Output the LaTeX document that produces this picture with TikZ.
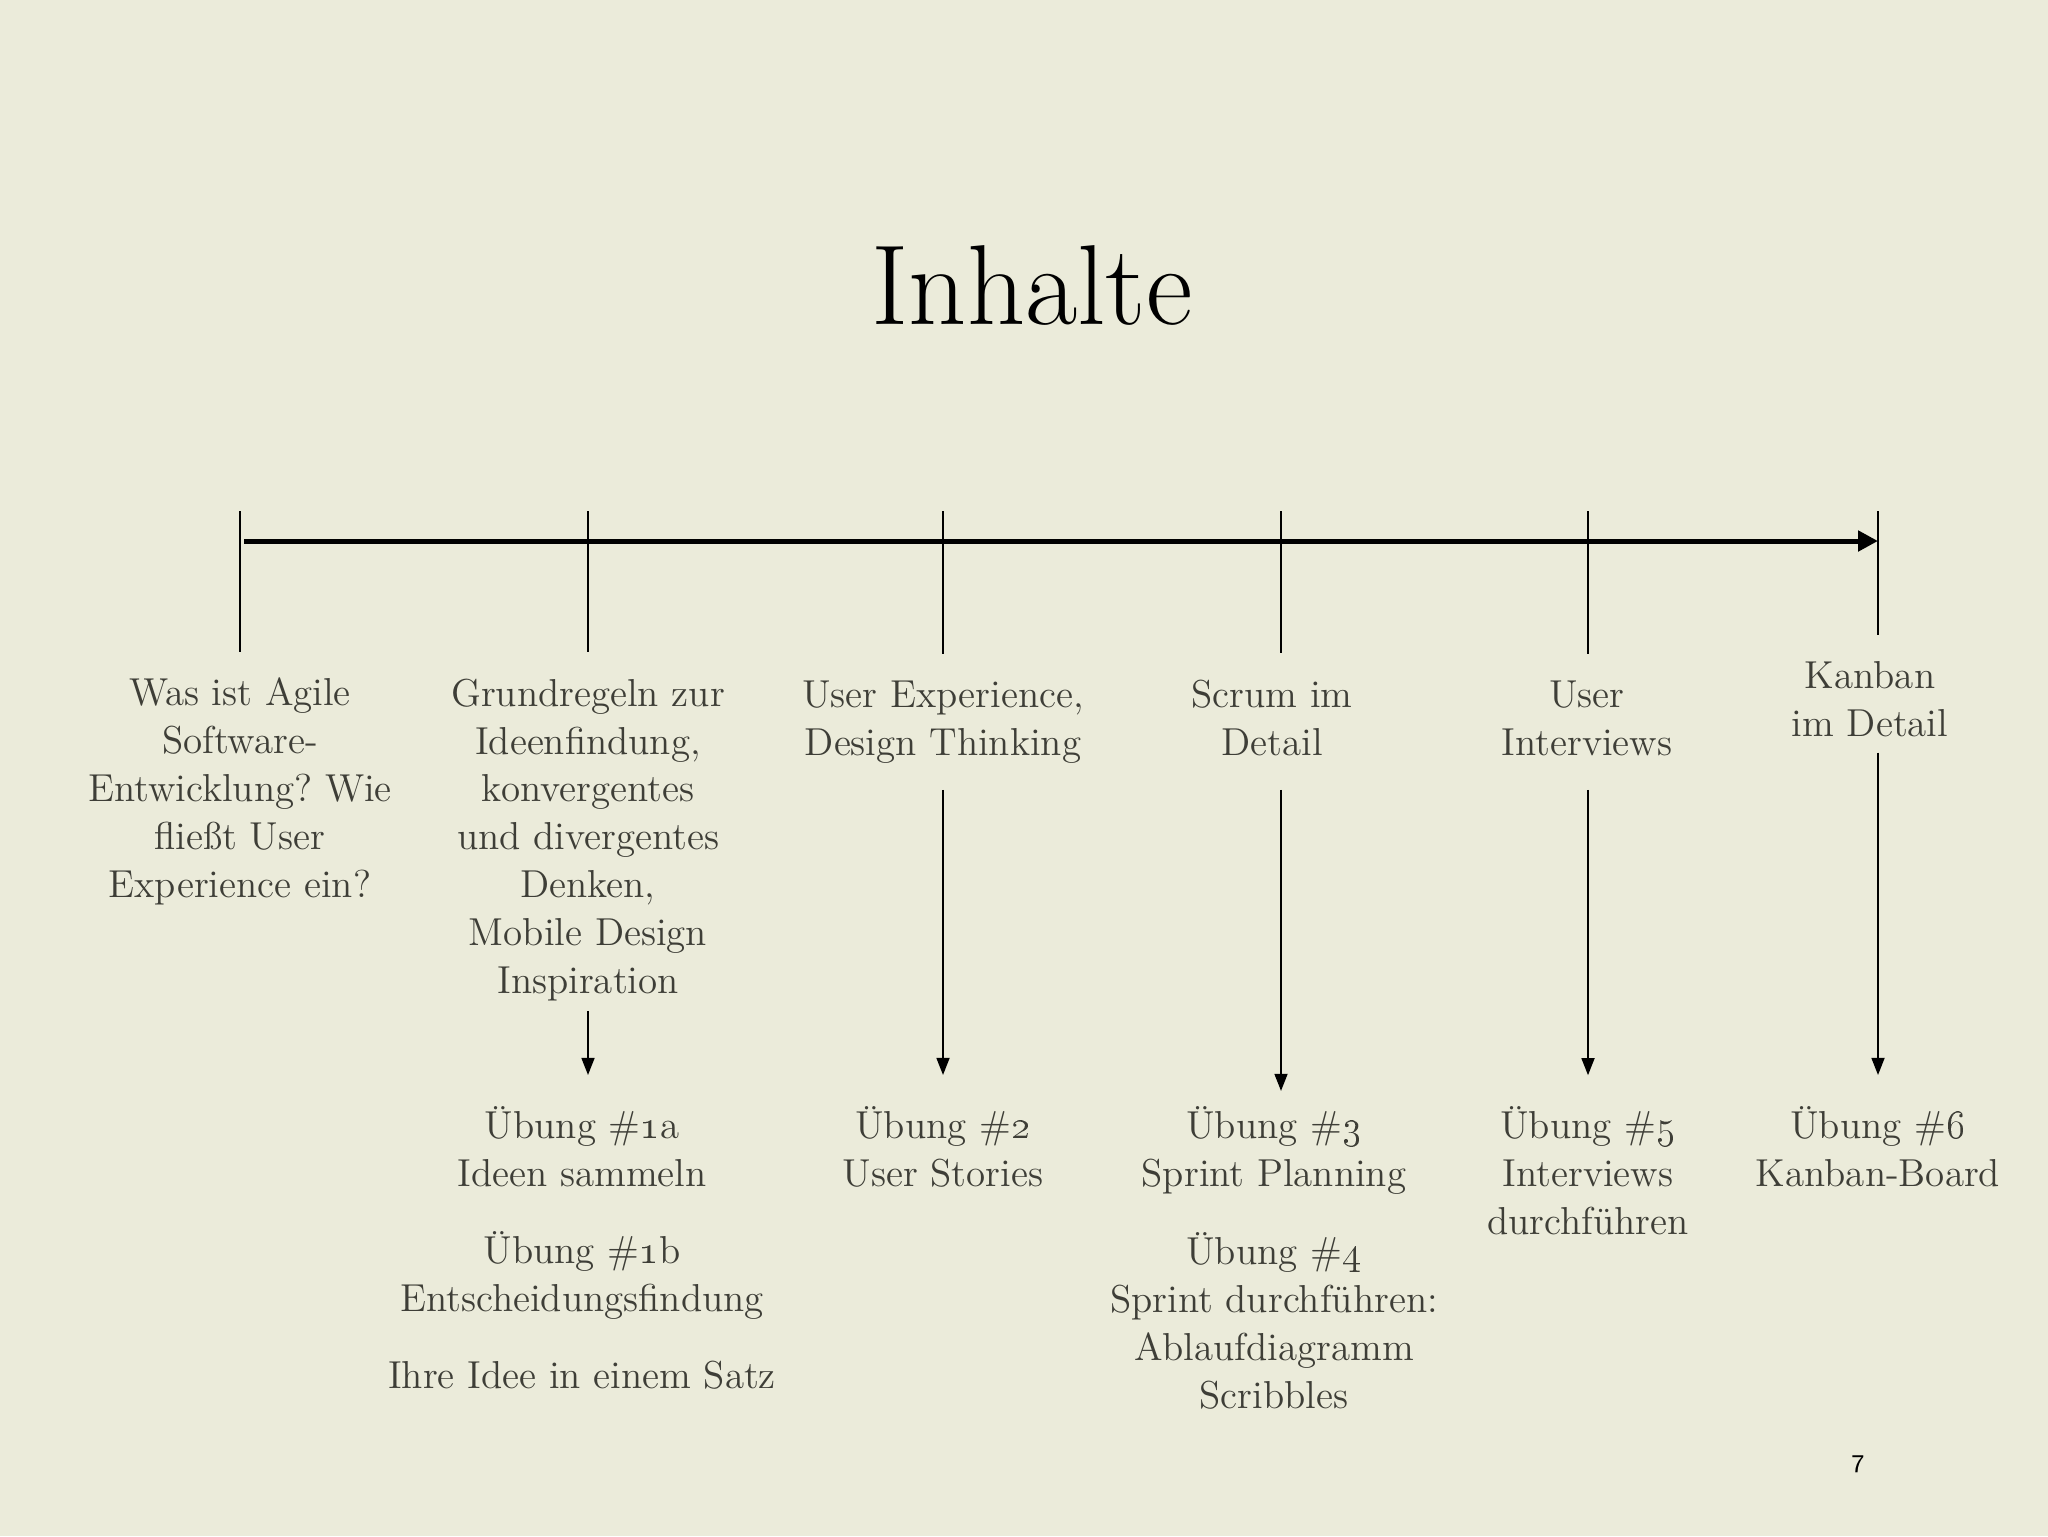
\documentclass[tikz,border=0pt]{standalone}
\usetikzlibrary{arrows.meta,positioning}
\definecolor{slidebg}{RGB}{235,235,218}
\definecolor{txtgray}{RGB}{62,62,55}
\newcommand{\lblfont}{\frenchspacing\fontsize{13.7}{16.8}\selectfont}

\begin{document}
\begin{tikzpicture}[x=0.3516pt,y=-0.3516pt,
	lbl/.style={align=center,text=txtgray,font=\lblfont,inner sep=2pt,outer sep=7.3pt,text depth=3pt},
	ex/.style={align=center,text=txtgray,font=\lblfont,inner sep=2pt,outer sep=9pt},
	tickline/.style={line width=0.5pt},
	arr/.style={line width=0.5pt,-{Triangle[length=6pt,width=4.6pt]}}]

	\fill[slidebg] (0,0) rectangle (2048,1536);

	\node[anchor=base,font=\fontsize{40}{46}\selectfont] (title) at (1032,324) {Inhalte};

	% timeline
	\coordinate (tl0) at (244,541);
	\coordinate (tl6) at (1878,541);
	\draw[line width=1.75pt,-{Triangle[length=7pt,width=7pt]}] (tl0) -- (tl6);

	\coordinate (tk1) at (240,511);
	\coordinate (tk2) at (588,511);
	\coordinate (tk3) at (943,511);
	\coordinate (tk4) at (1281,511);
	\coordinate (tk5) at (1588,511);
	\coordinate (tk6) at (1878,511);

	% topics (base = last line)
	\node[lbl,anchor=base] (lab1) at (240,897) {Was ist Agile\\Software-\\Entwicklung? Wie\\flie\ss t User\\Experience ein?};
	\node[lbl,anchor=base] (lab2) at (588,993) {Grundregeln zur\\Ideenfindung,\\konvergentes\\und divergentes\\Denken,\\Mobile Design\\Inspiration};
	\node[lbl,anchor=base] (lab3) at (943,755) {User Experience,\\Design Thinking};
	\node[lbl,anchor=base] (lab4) at (1272,755) {Scrum im\\Detail};
	\node[lbl,anchor=base] (lab5) at (1587,755) {User\\Interviews};
	\node[lbl,anchor=base] (lab6) at (1870,736) {Kanban\\im Detail};

	\draw[tickline] (tk1) -- (tk1 |- lab1.north);
	\draw[tickline] (tk2) -- (tk2 |- lab2.north);
	\draw[tickline] (tk3) -- (tk3 |- lab3.north);
	\draw[tickline] (tk4) -- (tk4 |- lab4.north);
	\draw[tickline] (tk5) -- (tk5 |- lab5.north);
	\draw[tickline] (tk6) -- (tk6 |- lab6.north);

	% exercises
	\node[ex,anchor=base] (ex1a) at (582,1186) {\"Ubung \#\oldstylenums{1}a\\Ideen sammeln};
	\node[ex,anchor=base] (ex1b) at (582,1311) {\"Ubung \#\oldstylenums{1}b\\Entscheidungsfindung};
	\node[ex,anchor=base] (ex1c) at (582,1388) {Ihre Idee in einem Satz};
	\node[ex,anchor=base] (ex2) at (943,1186) {\"Ubung \#\oldstylenums{2}\\User Stories};
	\node[ex,anchor=base] (ex3) at (1274,1186) {\"Ubung \#\oldstylenums{3}\\Sprint Planning};
	\node[ex,anchor=base] (ex4) at (1274,1408) {\"Ubung \#\oldstylenums{4}\\Sprint durchf\"uhren:\\Ablaufdiagramm\\Scribbles};
	\node[ex,anchor=base] (ex5) at (1588,1234) {\"Ubung \#\oldstylenums{5}\\Interviews\\durchf\"uhren};
	\node[ex,anchor=base] (ex6) at (1878,1186) {\"Ubung \#\oldstylenums{6}\\Kanban-Board};

	\draw[arr,shorten <=-6pt] (lab2.south -| tk2) -- (ex1a.north -| tk2);
	\draw[arr] (lab3.south -| tk3) -- (ex2.north -| tk3);
	\draw[arr,shorten >=-5.6pt] (lab4.south -| tk4) -- (ex3.north -| tk4);
	\draw[arr] (lab5.south -| tk5) -- (ex5.north -| tk5);
	\draw[arr,shorten <=-6.5pt] (lab6.south -| tk6) -- (ex6.north -| tk6);

	\node[anchor=base,font=\sffamily\fontsize{9}{10}\selectfont] (pgno) at (1858,1472) {7};

\end{tikzpicture}
\end{document}
